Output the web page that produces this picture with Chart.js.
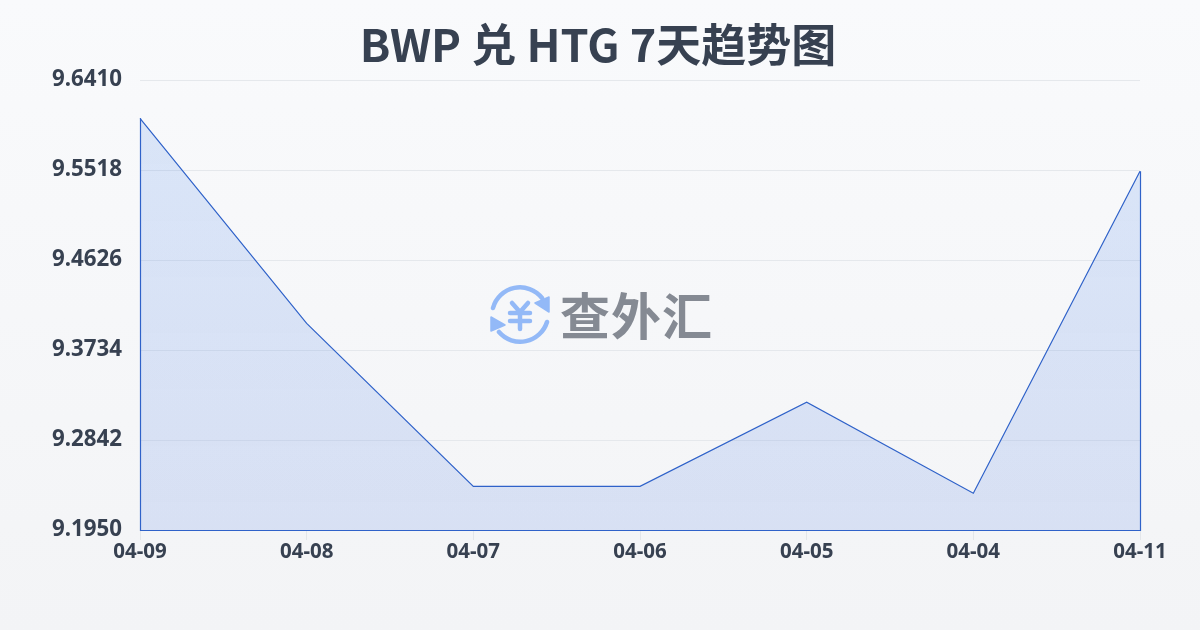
<!DOCTYPE html>
<html>
<head>
<meta charset="utf-8">
<script src="https://cdn.jsdelivr.net/npm/chart.js@4"></script>
<style>
html,body{margin:0;padding:0;width:1200px;height:630px;overflow:hidden;background:linear-gradient(180deg,#f9fafc 0%,#f3f4f6 100%);}
#wrap{position:relative;width:1200px;height:630px;}
canvas{position:absolute;left:0;top:0;}
#wm{position:absolute;left:489px;top:285px;width:226px;height:60px;display:flex;align-items:center;pointer-events:none;}
#wm span{font:700 50px "Noto Sans CJK SC";color:#858a93;margin-left:9px;margin-top:-5px;letter-spacing:1px;line-height:60px;white-space:nowrap;}
</style>
</head>
<body>
<div id="wrap">
<canvas id="c" width="1200" height="630"></canvas>
<div id="wm">
<svg width="62" height="60" viewBox="0 0 62 60" fill="none" stroke="#93b9f7" stroke-linecap="round" stroke-linejoin="round">
<path d="M4 23 A28 28 0 0 1 53 13" stroke-width="4.5"/>
<path d="M60 12 L60 27 L46 18 Z" fill="#93b9f7" stroke-width="1.5"/>
<path d="M58 37 A28 28 0 0 1 10 47" stroke-width="4.5"/>
<path d="M2 32 L2 46 L16 40 Z" fill="#93b9f7" stroke-width="1.5"/>
<path d="M23 18 L31 27 L39 18 M21 28 H41 M21 36 H41 M31 27 V44" stroke-width="4.5"/>
</svg>
<span>查外汇</span>
</div>
</div>
<script>
const categories = ['04-09','04-08','04-07','04-06','04-05','04-04','04-11'];
const rates = [9.6030,9.3998,9.2383,9.2383,9.3216,9.2314,9.5505];
const yTicks = [9.1950,9.2842,9.3734,9.4626,9.5518,9.6410];
const titleText = 'BWP 兑 HTG 7天趋势图';

const frame = {
  id:'frame',
  afterDatasetsDraw(ch){
    const {left,right,bottom} = ch.chartArea;
    const y = ch.scales.y;
    const c = ch.ctx;
    c.save();
    c.strokeStyle = '#2f62c9';
    c.lineWidth = 1.2;
    c.beginPath();
    c.moveTo(Math.round(left)+0.5, y.getPixelForValue(rates[0]));
    c.lineTo(Math.round(left)+0.5, Math.round(bottom)+0.5);
    c.lineTo(Math.round(right)+0.5, Math.round(bottom)+0.5);
    c.lineTo(Math.round(right)+0.5, y.getPixelForValue(rates[rates.length-1]));
    c.stroke();
    c.restore();
  }
};

new Chart(document.getElementById('c'),{
  type:'line',
  data:{labels:categories,datasets:[{
    data:rates,
    borderColor:'#2f62c9',
    borderWidth:1.2,
    pointRadius:0,
    tension:0,
    fill:'origin',
    backgroundColor(ctx){
      const a = ctx.chart.chartArea;
      if(!a) return 'rgba(59,110,220,0.15)';
      const g = ctx.chart.ctx.createLinearGradient(0,a.top,0,a.bottom);
      g.addColorStop(0,'rgba(80,140,235,0.18)');
      g.addColorStop(1,'rgba(60,110,225,0.15)');
      return g;
    }
  }]},
  options:{
    responsive:false,
    animation:false,
    layout:{padding:{left:40,right:44,top:0,bottom:60}},
    plugins:{
      legend:{display:false},
      tooltip:{enabled:false},
      title:{display:true,text:titleText,color:'#374151',
        font:{family:'"Noto Sans CJK SC"',size:45,weight:'700',lineHeight:1.2},
        padding:{top:18,bottom:8}}
    },
    scales:{
      x:{
        offset:false,
        grid:{drawOnChartArea:false,color:'#e3e6ea',tickLength:10},
        border:{display:false},
        ticks:{color:'#374151',maxRotation:0,autoSkip:false,padding:0,
          font:{family:'"Noto Sans"',size:20.5,weight:'700'}},
        afterFit(s){s.height=40;}
      },
      y:{
        min:9.195,max:9.641,
        afterBuildTicks(s){s.ticks=yTicks.map(v=>({value:v}));},
        grid:{color:'#e5e8ec',tickLength:0},
        border:{display:false},
        ticks:{color:'#374151',padding:18,labelOffset:-0.5,
          font:{family:'"Noto Sans"',size:22.3,weight:'700'},
          callback:v=>Number(v).toFixed(4)},
        afterFit(s){s.width=100;}
      },
      yRight:{
        position:'right',
        min:9.195,max:9.641,
        grid:{display:false},
        border:{display:false},
        ticks:{display:false},
        afterFit(s){s.width=16;}
      }
    }
  },
  plugins:[frame]
});
</script>
</body>
</html>
